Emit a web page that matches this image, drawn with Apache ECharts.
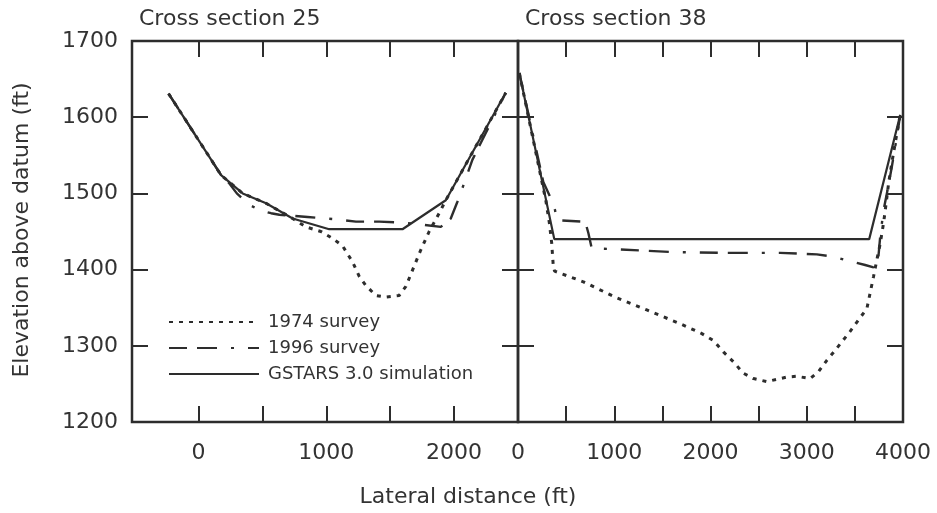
<!DOCTYPE html>
<html>
<head>
<meta charset="utf-8">
<script src="https://cdn.jsdelivr.net/npm/echarts@6/dist/echarts.min.js"></script>
<style>
html,body{margin:0;padding:0;background:#fff;}
#c{width:937px;height:513px;}
</style>
</head>
<body>
<div id="c"></div>
<script>
// ---- data ----
const seriesNames = ['1974 survey', '1996 survey', 'GSTARS 3.0 simulation'];
const panelTitles = ['Cross section 25', 'Cross section 38'];
const yTitle = 'Elevation above datum (ft)';
const xTitle = 'Lateral distance (ft)';

const yTicks = [1300, 1400, 1500, 1600];
const xTicks25 = [0, 500, 1000, 1500, 2000];
const xLabels25 = [0, 1000, 2000];
const xTicks38 = [500, 1000, 1500, 2000, 2500, 3000, 3500];
const xLabels38 = [0, 1000, 2000, 3000, 4000];

// Cross section 25
const cs25_1974 = [[-234,1631],[177,1524],[346,1500],[529,1487],[737,1467],[841,1456],[958,1450],[1049,1441],[1128,1431],[1206,1410],[1258,1391],[1310,1379],[1388,1366],[1466,1364],[1570,1366],[1623,1378],[1674,1399],[1740,1426],[1805,1450],[1883,1474],[1935,1491],[2404,1632]];
const cs25_1996 = [[-234,1631],[177,1524],[242,1513],[300,1500],[398,1485],[480,1478],[568,1474],[633,1472],[854,1469],[1076,1466],[1232,1463],[1414,1463],[1544,1462],[1700,1460],[1896,1456],[1974,1467],[2026,1489],[2078,1513],[2143,1544],[2404,1632]];
const cs25_gstars = [[-234,1631],[177,1524],[346,1500],[529,1487],[737,1467],[1023,1453],[1596,1453],[1935,1491],[2404,1632]];

// Cross section 38
const cs38_1974 = [[14,1658],[290,1490],[326,1461],[350,1435],[367,1404],[380,1398],[679,1384],[1008,1364],[1338,1347],[1684,1329],[1910,1316],[2030,1307],[2134,1292],[2238,1279],[2342,1264],[2446,1257],[2585,1253],[2793,1259],[2897,1260],[3035,1257],[3122,1266],[3209,1281],[3295,1294],[3451,1319],[3538,1334],[3625,1349],[3694,1391],[3735,1417],[3763,1434],[3798,1461],[3825,1487],[3850,1513],[3884,1540],[3937,1579],[3971,1603]];
const cs38_1996 = [[14,1658],[263,1515],[350,1491],[385,1478],[400,1465],[655,1463],[700,1462],[731,1448],[766,1428],[956,1427],[1615,1423],[2170,1422],[2723,1422],[3105,1420],[3278,1417],[3417,1412],[3607,1406],[3694,1403],[3746,1419],[3763,1443],[3798,1478],[3839,1504],[3884,1535],[3937,1575],[3971,1603]];
const cs38_gstars = [[14,1658],[377,1440],[3649,1440],[3971,1603]];

// ---- chart ----
const FONT = 'DejaVu Sans';
const INK = '#2d2d2d';
const TXT = '#333333';

const styles = [
  {color: INK, width: 3, type: [4, 6], cap: 'butt'},
  {color: INK, width: 2.4, type: [18, 10, 20, 14, 3, 14], cap: 'butt'},
  {color: INK, width: 2.2, type: 'solid'}
];

const chart = echarts.init(document.getElementById('c'), null, {renderer: 'canvas'});
const plain = function (v) { return String(v); };

function xAxisPair(gi, min, max, ticks, labels) {
  const base = {
    gridIndex: gi, type: 'value', min: min, max: max,
    axisLine: {show: false, onZero: false}, splitLine: {show: false},
    axisTick: {show: true, inside: true, length: 16, customValues: ticks, lineStyle: {color: INK, width: 2}}
  };
  return [
    Object.assign({}, base, {position: 'bottom',
      axisLabel: {show: true, customValues: labels, formatter: plain, margin: 20, color: TXT, fontFamily: FONT, fontSize: 22}}),
    Object.assign({}, base, {position: 'top', axisLabel: {show: false}})
  ];
}
function yAxisPair(gi, showLabels) {
  const base = {
    gridIndex: gi, type: 'value', min: 1200, max: 1700, interval: 100,
    axisLine: {show: false, onZero: false}, splitLine: {show: false},
    axisTick: {show: true, inside: true, length: 16, customValues: yTicks, lineStyle: {color: INK, width: 2}}
  };
  return [
    Object.assign({}, base, {position: 'left',
      axisLabel: {show: showLabels, formatter: plain, margin: 14, color: TXT, fontFamily: FONT, fontSize: 22}}),
    Object.assign({}, base, {position: 'right', axisLabel: {show: false}})
  ];
}

const xAxes = [].concat(xAxisPair(0, -520, 2500, xTicks25, xLabels25), xAxisPair(1, 0, 4000, xTicks38, xLabels38));
const yAxes = [].concat(yAxisPair(0, true), yAxisPair(1, false));

const data25 = [cs25_1974, cs25_1996, cs25_gstars];
const data38 = [cs38_1974, cs38_1996, cs38_gstars];
const series = [];
[data25, data38].forEach(function (set, gi) {
  set.forEach(function (d, si) {
    series.push({
      name: seriesNames[si], type: 'line', data: d,
      xAxisIndex: gi * 2, yAxisIndex: gi * 2,
      symbol: 'none', showSymbol: false, animation: false,
      color: INK,
      z: si === 2 ? 5 : 3,
      lineStyle: styles[si]
    });
  });
});

chart.setOption({
  backgroundColor: '#ffffff',
  animation: false,
  grid: [
    {left: 132, top: 41, width: 386, height: 381, show: true, borderColor: INK, borderWidth: 2.5, backgroundColor: 'transparent'},
    {left: 518, top: 41, width: 385, height: 381, show: true, borderColor: INK, borderWidth: 2.5, backgroundColor: 'transparent'}
  ],
  xAxis: xAxes,
  yAxis: yAxes,
  legend: {
    data: seriesNames,
    orient: 'vertical',
    left: 163, top: 307,
    itemWidth: 90, itemHeight: 14, itemGap: 6,
    itemStyle: {opacity: 0, color: 'transparent', borderWidth: 0},
    textStyle: {color: TXT, fontFamily: FONT, fontSize: 18, lineHeight: 20, padding: [0, 0, 0, 4]},
    selectedMode: false
  },
  series: series,
  graphic: [
    {type: 'text', left: 139, top: 8, style: {text: panelTitles[0], fill: TXT, font: '22px "DejaVu Sans"'}},
    {type: 'text', left: 525, top: 8, style: {text: panelTitles[1], fill: TXT, font: '22px "DejaVu Sans"'}},
    {type: 'text', x: 22, y: 230, rotation: Math.PI / 2,
      style: {text: yTitle, fill: TXT, font: '22px "DejaVu Sans"', align: 'center', verticalAlign: 'middle'}},
    {type: 'text', x: 468, y: 497,
      style: {text: xTitle, fill: TXT, font: '22px "DejaVu Sans"', align: 'center', verticalAlign: 'middle'}}
  ]
});
</script>
</body>
</html>
